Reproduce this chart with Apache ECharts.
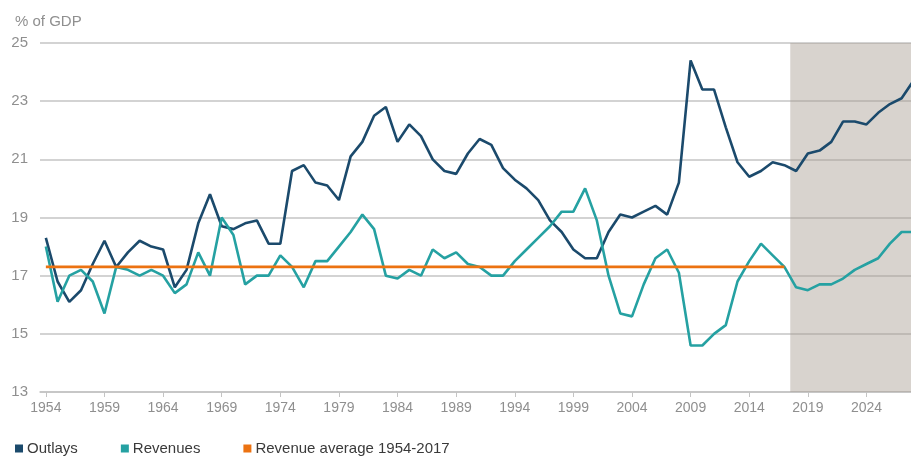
<!DOCTYPE html>
<html>
<head>
<meta charset="utf-8">
<script src="https://cdn.jsdelivr.net/npm/echarts@6/dist/echarts.min.js"></script>
<style>
    html, body { margin: 0; padding: 0; background: #fff; }
    #main { width: 911px; height: 456px; }
</style>
</head>
<body>
<div id="main"></div>
<script>
// years 1954 - 2028 (the last one runs past the picture's edge)
var years = [];
for (var y = 1954; y <= 2028; y++) {
    years.push(y);
}
var yearLabels = [1954, 1959, 1964, 1969, 1974, 1979, 1984, 1989, 1994, 1999, 2004, 2009, 2014, 2019, 2024];

var outlays = [
    18.3, 16.8, 16.1, 16.5, 17.4, 18.2, 17.3, 17.8, 18.2, 18.0,
    17.9, 16.6, 17.2, 18.8, 19.8, 18.7, 18.6, 18.8, 18.9, 18.1,
    18.1, 20.6, 20.8, 20.2, 20.1, 19.6, 21.1, 21.6, 22.5, 22.8,
    21.6, 22.2, 21.8, 21.0, 20.6, 20.5, 21.2, 21.7, 21.5, 20.7,
    20.3, 20.0, 19.6, 18.9, 18.5, 17.9, 17.6, 17.6, 18.5, 19.1,
    19.0, 19.2, 19.4, 19.1, 20.2, 24.4, 23.4, 23.4, 22.1, 20.9,
    20.4, 20.6, 20.9, 20.8, 20.6, 21.2, 21.3, 21.6, 22.3, 22.3,
    22.2, 22.6, 22.9, 23.1, 23.7
];

var revenues = [
    18.0, 16.1, 17.0, 17.2, 16.8, 15.7, 17.3, 17.2, 17.0, 17.2,
    17.0, 16.4, 16.7, 17.8, 17.0, 19.0, 18.4, 16.7, 17.0, 17.0,
    17.7, 17.3, 16.6, 17.5, 17.5, 18.0, 18.5, 19.1, 18.6, 17.0,
    16.9, 17.2, 17.0, 17.9, 17.6, 17.8, 17.4, 17.3, 17.0, 17.0,
    17.5, 17.9, 18.3, 18.7, 19.2, 19.2, 20.0, 18.9, 17.0, 15.7,
    15.6, 16.7, 17.6, 17.9, 17.1, 14.6, 14.6, 15.0, 15.3, 16.8,
    17.5, 18.1, 17.7, 17.3, 16.6, 16.5, 16.7, 16.7, 16.9, 17.2,
    17.4, 17.6, 18.1, 18.5, 18.5
];

// revenue average 1954-2017
var avgValue = 17.3;
var avgEnd = 2017;
// projection period shaded from 2018
var projStart = 2018;

var yTicks = { min: 13, max: 25, step: 2 };

function pairs(values) {
    var out = [];
    for (var i = 0; i < years.length; i++) {
        out.push([years[i], values[i]]);
    }
    return out;
}

var average = [];
for (var i = 0; i < years.length; i++) {
    if (years[i] <= avgEnd) {
        average.push([years[i], avgValue]);
    }
}

var font = "'Liberation Sans', Arial, sans-serif";
var grey = '#8f8f8f';

var myChart = echarts.init(document.getElementById('main'));
var option = {
    animation: false,
    title: {
        text: '% of GDP',
        left: 10,
        top: 9,
        textStyle: {
            fontFamily: font,
            fontSize: 15,
            fontWeight: 'normal',
            color: grey
        }
    },
    legend: {
        left: 10,
        top: 436,
        itemWidth: 8,
        itemHeight: 8,
        itemGap: 43,
        icon: 'rect',
        textStyle: {
            fontFamily: font,
            fontSize: 15,
            color: '#3a3a3a',
            padding: [0, 0, 0, -1]
        },
        data: ['Outlays', 'Revenues', 'Revenue average 1954-2017']
    },
    grid: {
        left: 40,
        top: 43,
        right: 0,
        height: 349
    },
    xAxis: {
        type: 'value',
        min: 1953.5,
        max: 2027.8,
        axisLine: { lineStyle: { color: '#c4c4c4', width: 1.5 } },
        axisTick: {
            customValues: yearLabels,
            length: 5,
            lineStyle: { color: '#c4c4c4' }
        },
        axisLabel: {
            customValues: yearLabels,
            margin: 9,
            fontFamily: font,
            fontSize: 14,
            color: grey,
            formatter: function (v) { return String(v); }
        },
        splitLine: { show: false }
    },
    yAxis: {
        type: 'value',
        min: yTicks.min,
        max: yTicks.max,
        interval: yTicks.step,
        axisLine: { show: false },
        axisTick: { show: false },
        axisLabel: {
            margin: 12,
            fontFamily: font,
            fontSize: 15,
            color: grey
        },
        splitLine: { lineStyle: { color: '#c4c4c4', width: 1.5 } }
    },
    series: [
        {
            name: 'Outlays',
            type: 'line',
            data: pairs(outlays),
            symbol: 'none',
            itemStyle: { color: '#1b4a6c' },
            lineStyle: { color: '#1b4a6c', width: 2.6 },
            markArea: {
                silent: true,
                itemStyle: { color: 'rgba(168,157,146,0.45)' },
                data: [[
                    { xAxis: projStart - 0.5 },
                    { xAxis: 'max' }
                ]]
            },
            z: 3
        },
        {
            name: 'Revenues',
            type: 'line',
            data: pairs(revenues),
            symbol: 'none',
            itemStyle: { color: '#25a1a2' },
            lineStyle: { color: '#25a1a2', width: 2.6 },
            z: 3
        },
        {
            name: 'Revenue average 1954-2017',
            type: 'line',
            data: average,
            symbol: 'none',
            itemStyle: { color: '#ec7211' },
            lineStyle: { color: '#ec7211', width: 2.8 },
            z: 4
        }
    ]
};
myChart.setOption(option);
</script>
</body>
</html>
